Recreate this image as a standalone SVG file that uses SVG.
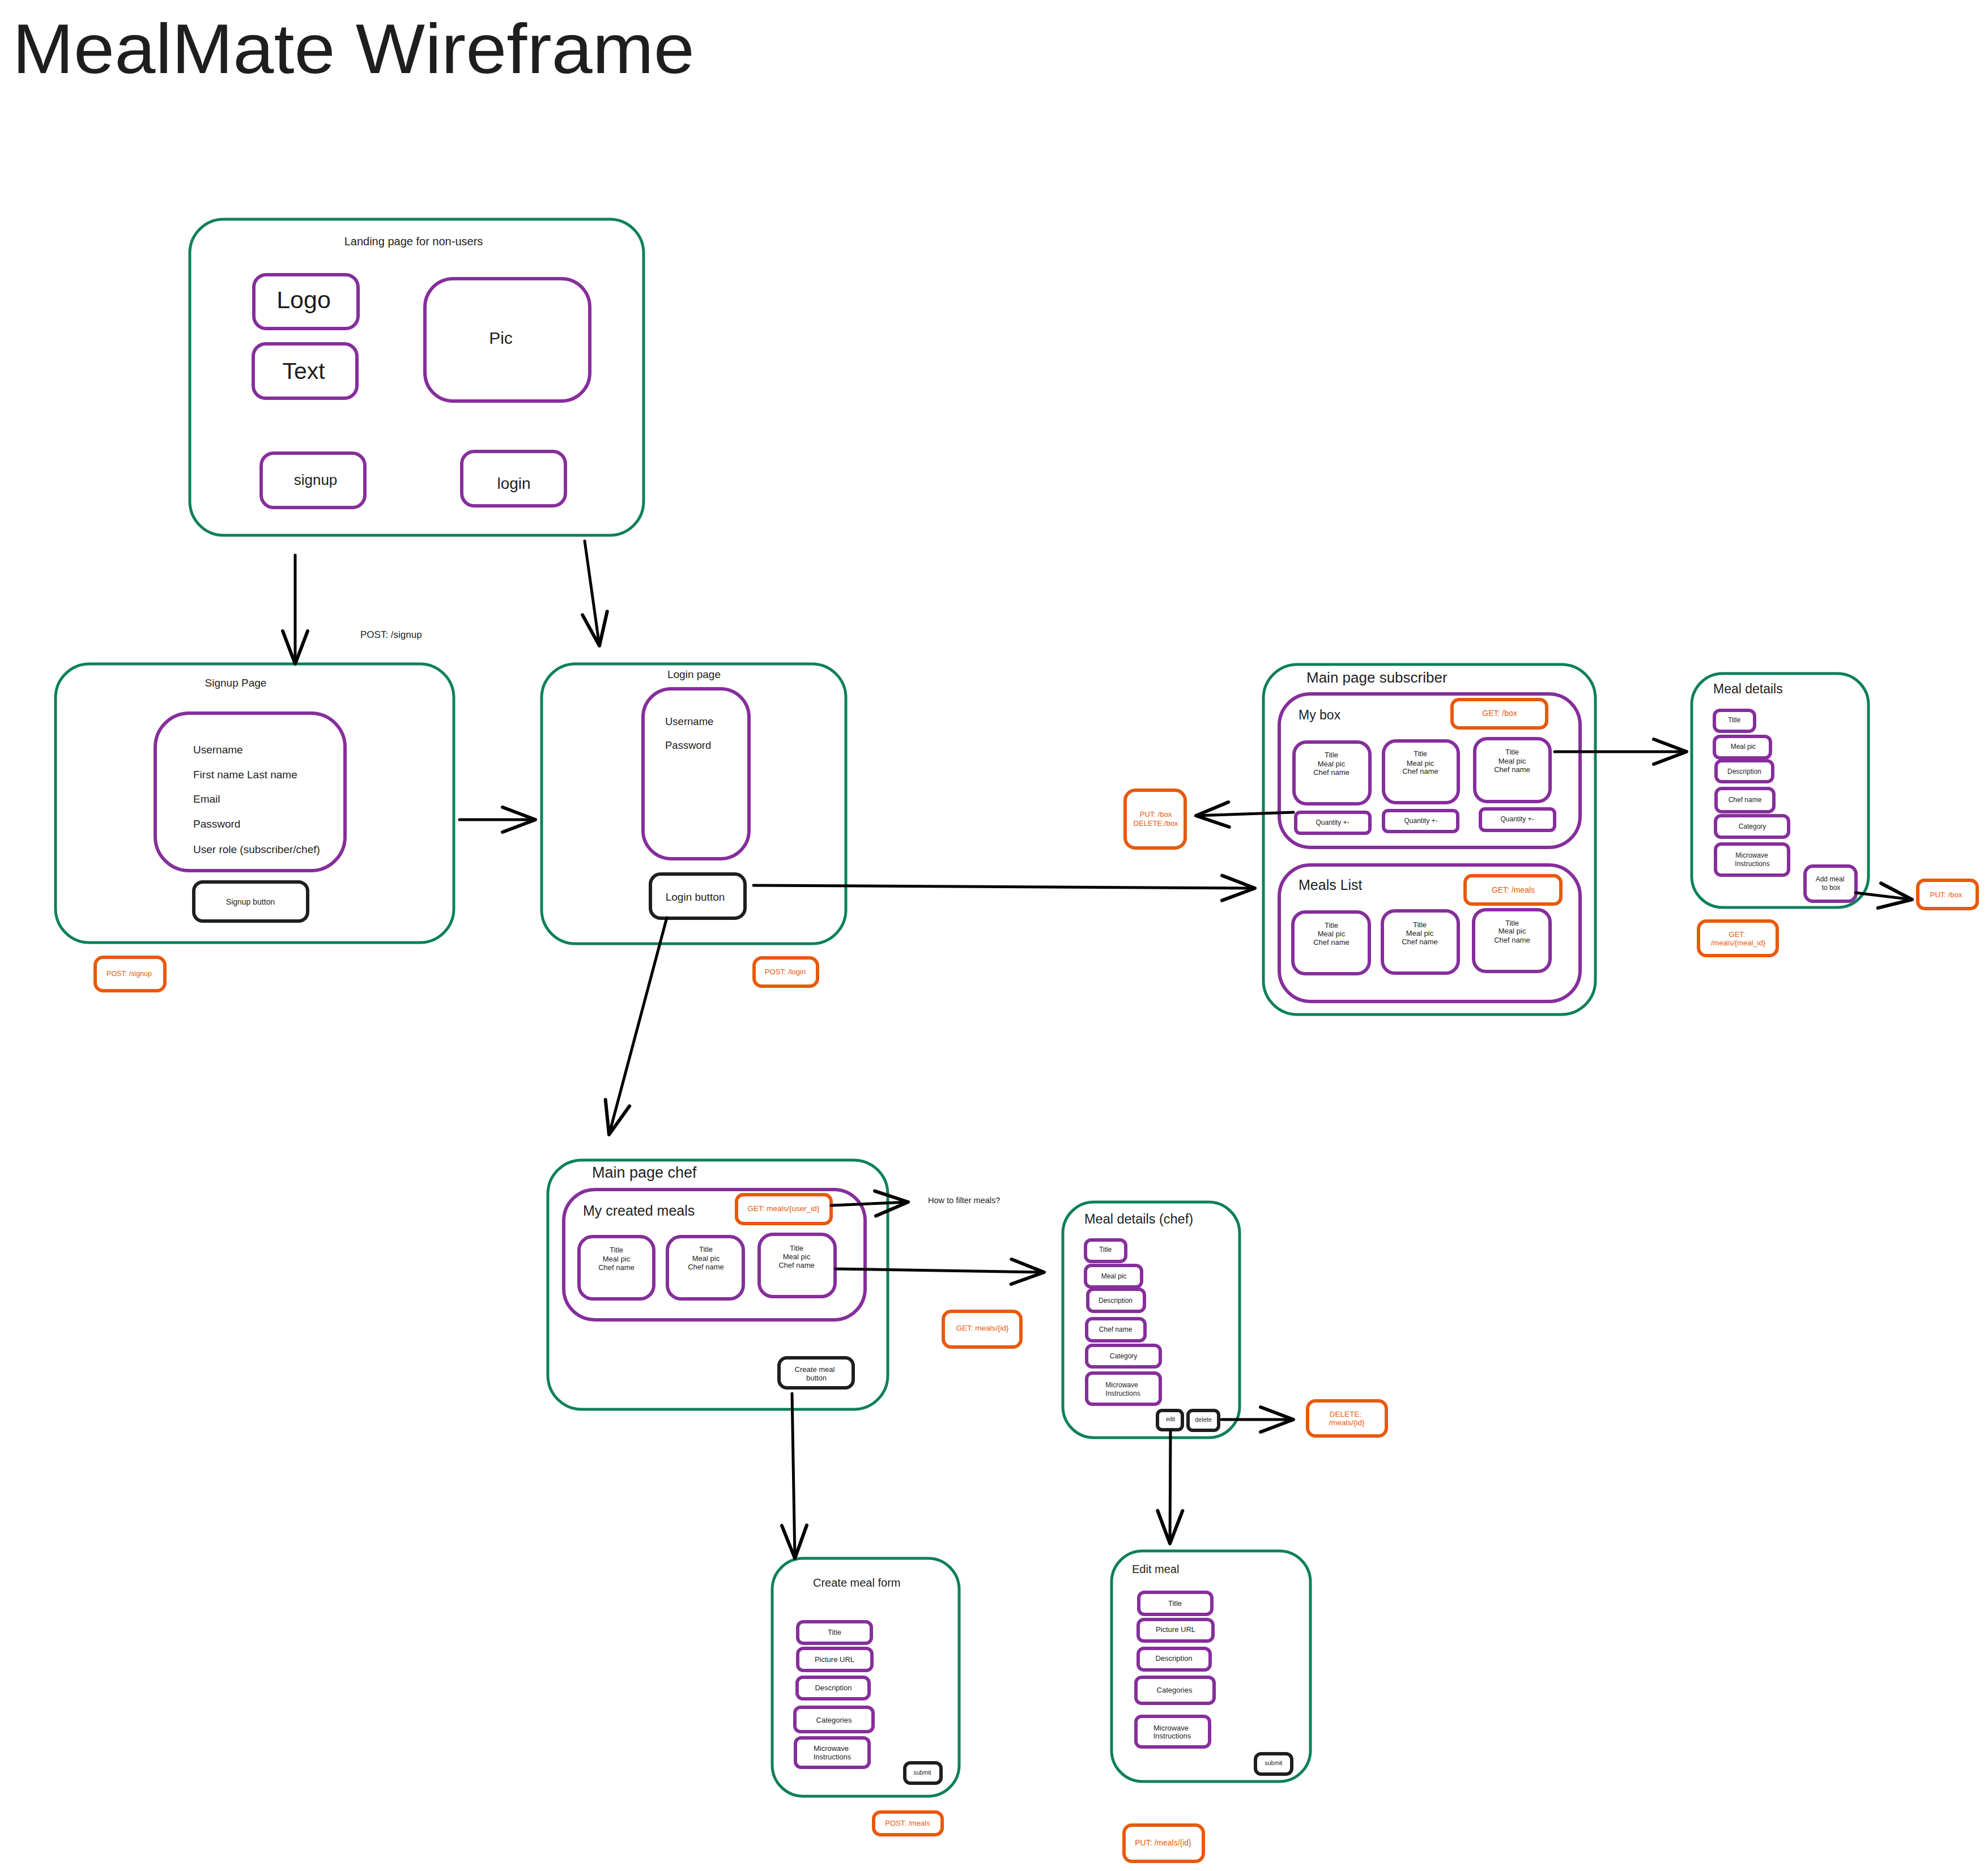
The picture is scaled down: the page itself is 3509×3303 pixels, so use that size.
<svg xmlns="http://www.w3.org/2000/svg" width="3509" height="3303" viewBox="0 0 3509 3303">
<style>
rect{fill:none}
.g{stroke:#0c8059;stroke-width:5}
.p{stroke:#862e9c;stroke-width:6}
.o{stroke:#e8590c;stroke-width:6}
.k{stroke:#1e1e1e;stroke-width:6}
.a{fill:none;stroke:#000;stroke-width:5;stroke-linecap:round}
text{font-family:"Liberation Sans",Arial,sans-serif;fill:#1e1e1e;dominant-baseline:central}
.c{text-anchor:middle}
.or{fill:#e8590c}
</style>
<defs>
<marker id="ah" markerUnits="userSpaceOnUse" markerWidth="70" markerHeight="52" viewBox="-62 -26 70 52" refX="0" refY="0" orient="auto">
<path d="M-58,-22 L0,0 L-58,22" fill="none" stroke="#000" stroke-width="6" stroke-linecap="round" stroke-linejoin="round"/>
</marker>
</defs>
<rect x="0" y="0" width="3509" height="3303" fill="#fff"/>
<text id="title" x="22" y="86" font-size="124" textLength="1204" lengthAdjust="spacingAndGlyphs">MealMate Wireframe</text>

<g id="landing">
<rect class="g" x="335" y="387" width="801" height="558" rx="60"/>
<text class="c" x="730" y="426" font-size="20">Landing page for non-users</text>
<rect class="p" x="448" y="485" width="184" height="95" rx="22"/>
<text class="c" x="536" y="529" font-size="43">Logo</text>
<rect class="p" x="447" y="607" width="183" height="96" rx="22"/>
<text class="c" x="536" y="655" font-size="41">Text</text>
<rect class="p" x="750" y="492" width="291" height="216" rx="50"/>
<text class="c" x="884" y="596" font-size="30">Pic</text>
<rect class="p" x="461" y="800" width="183" height="96" rx="22"/>
<text class="c" x="557" y="847" font-size="26">signup</text>
<rect class="p" x="815" y="797" width="183" height="96" rx="22"/>
<text class="c" x="907" y="853" font-size="28">login</text>
</g>

<text id="post-signup-label" x="636" y="1120" font-size="17">POST: /signup</text>

<g id="signup">
<rect class="g" x="98" y="1172" width="703" height="492" rx="60"/>
<text class="c" x="416" y="1205" font-size="19">Signup Page</text>
<rect class="p" x="274" y="1259" width="335" height="278" rx="60"/>
<text x="341" y="1323" font-size="19">Username</text>
<text x="341" y="1367" font-size="19">First name Last name</text>
<text x="341" y="1410" font-size="19">Email</text>
<text x="341" y="1454" font-size="19">Password</text>
<text x="341" y="1499" font-size="19">User role (subscriber/chef)</text>
<rect class="k" x="342" y="1557" width="201" height="69" rx="16"/>
<text class="c" x="442" y="1592" font-size="14">Signup button</text>
<rect class="o" x="168" y="1690" width="123" height="59" rx="14"/>
<text class="c or" x="228" y="1719" font-size="12.5">POST: /signup</text>
</g>

<g id="login">
<rect class="g" x="956" y="1172" width="537" height="494" rx="60"/>
<text class="c" x="1225" y="1190" font-size="19">Login page</text>
<rect class="p" x="1135" y="1216" width="187" height="300" rx="50"/>
<text x="1174" y="1273" font-size="18.5">Username</text>
<text x="1174" y="1315" font-size="18.5">Password</text>
<rect class="k" x="1148" y="1543" width="167" height="78" rx="18"/>
<text class="c" x="1227" y="1583" font-size="19">Login button</text>
<rect class="o" x="1331" y="1691" width="112" height="50" rx="14"/>
<text class="c or" x="1386" y="1715" font-size="13">POST: /login</text>
</g>

<g id="main-subscriber">
<rect class="g" x="2230" y="1173" width="586" height="618" rx="60"/>
<text x="2306" y="1196" font-size="26">Main page subscriber</text>
<rect class="p" x="2258" y="1225" width="531" height="271" rx="55"/>
<text x="2292" y="1262" font-size="23">My box</text>
<rect class="o" x="2563" y="1235" width="167" height="50" rx="12"/>
<text class="c or" x="2647" y="1259" font-size="14">GET: /box</text>
<rect class="p" x="2284" y="1310" width="134" height="109" rx="22"/>
<text class="c" x="2350" y="1332" font-size="13">Title</text>
<text class="c" x="2350" y="1348" font-size="13">Meal pic</text>
<text class="c" x="2350" y="1363" font-size="13">Chef name</text>
<rect class="p" x="2442" y="1308" width="132" height="109" rx="22"/>
<text class="c" x="2507" y="1330" font-size="13">Title</text>
<text class="c" x="2507" y="1347" font-size="13">Meal pic</text>
<text class="c" x="2507" y="1361" font-size="13">Chef name</text>
<rect class="p" x="2603" y="1304" width="133" height="111" rx="22"/>
<text class="c" x="2669" y="1327" font-size="13">Title</text>
<text class="c" x="2669" y="1343" font-size="13">Meal pic</text>
<text class="c" x="2669" y="1358" font-size="13">Chef name</text>
<rect class="p" x="2287" y="1434" width="131" height="37" rx="8"/>
<text class="c" x="2352" y="1452" font-size="12">Quantity +-</text>
<rect class="p" x="2442" y="1431" width="131" height="37" rx="8"/>
<text class="c" x="2508" y="1449" font-size="12">Quantity +-</text>
<rect class="p" x="2613" y="1428" width="131" height="38" rx="8"/>
<text class="c" x="2678" y="1446" font-size="12">Quantity +-</text>
<rect class="p" x="2258" y="1527" width="531" height="241" rx="55"/>
<text x="2292" y="1562" font-size="25">Meals List</text>
<rect class="o" x="2586" y="1546" width="169" height="50" rx="12"/>
<text class="c or" x="2671" y="1571" font-size="14">GET: /meals</text>
<rect class="p" x="2282" y="1610" width="135" height="109" rx="22"/>
<text class="c" x="2350" y="1633" font-size="13">Title</text>
<text class="c" x="2350" y="1648" font-size="13">Meal pic</text>
<text class="c" x="2350" y="1663" font-size="13">Chef name</text>
<rect class="p" x="2440" y="1608" width="134" height="110" rx="22"/>
<text class="c" x="2506" y="1632" font-size="13">Title</text>
<text class="c" x="2506" y="1647" font-size="13">Meal pic</text>
<text class="c" x="2506" y="1662" font-size="13">Chef name</text>
<rect class="p" x="2601" y="1606" width="135" height="109" rx="22"/>
<text class="c" x="2669" y="1629" font-size="13">Title</text>
<text class="c" x="2669" y="1643" font-size="13">Meal pic</text>
<text class="c" x="2669" y="1659" font-size="13">Chef name</text>
</g>

<g id="put-delete-box">
<rect class="o" x="1986" y="1395" width="106" height="102" rx="18"/>
<text class="c or" x="2040" y="1437" font-size="13">PUT: /box</text>
<text class="c or" x="2040" y="1453" font-size="13">DELETE:/box</text>
</g>

<g id="meal-details">
<rect class="g" x="2986" y="1189" width="312" height="413" rx="55"/>
<text x="3024" y="1216" font-size="23">Meal details</text>
<rect class="p" x="3026" y="1254" width="71" height="37" rx="10"/>
<text class="c" x="3061" y="1271" font-size="12">Title</text>
<rect class="p" x="3026" y="1300" width="99" height="38" rx="10"/>
<text class="c" x="3077" y="1318" font-size="12">Meal pic</text>
<rect class="p" x="3029" y="1343" width="100" height="37" rx="10"/>
<text class="c" x="3079" y="1362" font-size="12">Description</text>
<rect class="p" x="3029" y="1392" width="102" height="41" rx="10"/>
<text class="c" x="3080" y="1412" font-size="12">Chef name</text>
<rect class="p" x="3028" y="1440" width="129" height="38" rx="10"/>
<text class="c" x="3093" y="1459" font-size="12">Category</text>
<rect class="p" x="3028" y="1490" width="129" height="55" rx="10"/>
<text class="c" x="3092" y="1510" font-size="12">Microwave</text>
<text class="c" x="3093" y="1525" font-size="12">Instructions</text>
<rect class="p" x="3186" y="1529" width="90" height="62" rx="14"/>
<text class="c" x="3230" y="1552" font-size="12">Add meal</text>
<text class="c" x="3232" y="1567" font-size="12">to box</text>
<rect class="o" x="2998" y="1626" width="139" height="61" rx="14"/>
<text class="c or" x="3066" y="1649" font-size="13">GET:</text>
<text class="c or" x="3068" y="1664" font-size="13">/meals/{meal_id}</text>
</g>

<g id="put-box">
<rect class="o" x="3385" y="1554" width="105" height="50" rx="12"/>
<text class="c or" x="3435" y="1579" font-size="13">PUT: /box</text>
</g>

<g id="main-chef">
<rect class="g" x="967" y="2048" width="600" height="440" rx="60"/>
<text x="1045" y="2070" font-size="27">Main page chef</text>
<rect class="p" x="995" y="2100" width="532" height="230" rx="55"/>
<text x="1029" y="2137" font-size="25">My created meals</text>
<rect class="o" x="1300" y="2109" width="167" height="51" rx="12"/>
<text class="c or" x="1383" y="2133" font-size="13.5">GET: meals/{user_id}</text>
<rect class="p" x="1022" y="2183" width="132" height="110" rx="24"/>
<text class="c" x="1088" y="2206" font-size="13">Title</text>
<text class="c" x="1088" y="2222" font-size="13">Meal pic</text>
<text class="c" x="1088" y="2237" font-size="13">Chef name</text>
<rect class="p" x="1178" y="2183" width="134" height="110" rx="24"/>
<text class="c" x="1246" y="2205" font-size="13">Title</text>
<text class="c" x="1246" y="2221" font-size="13">Meal pic</text>
<text class="c" x="1246" y="2236" font-size="13">Chef name</text>
<rect class="p" x="1340" y="2179" width="134" height="110" rx="24"/>
<text class="c" x="1406" y="2203" font-size="13">Title</text>
<text class="c" x="1406" y="2218" font-size="13">Meal pic</text>
<text class="c" x="1406" y="2233" font-size="13">Chef name</text>
<rect class="k" x="1375" y="2397" width="131" height="53" rx="14"/>
<text class="c" x="1438" y="2417" font-size="13">Create meal</text>
<text class="c" x="1441" y="2432" font-size="13">button</text>
</g>

<text id="filter-note" x="1638" y="2119" font-size="14.5">How to filter meals?</text>

<g id="get-meal-id">
<rect class="o" x="1665" y="2315" width="137" height="63" rx="14"/>
<text class="c or" x="1734" y="2344" font-size="13.5">GET: meals/{id}</text>
</g>

<g id="meal-details-chef">
<rect class="g" x="1876" y="2122" width="312" height="416" rx="55"/>
<text x="1914" y="2152" font-size="23.5">Meal details (chef)</text>
<rect class="p" x="1916" y="2189" width="71" height="38" rx="10"/>
<text class="c" x="1951" y="2206" font-size="12">Title</text>
<rect class="p" x="1916" y="2234" width="99" height="38" rx="10"/>
<text class="c" x="1966" y="2253" font-size="12">Meal pic</text>
<rect class="p" x="1920" y="2276" width="100" height="39" rx="10"/>
<text class="c" x="1969" y="2296" font-size="12">Description</text>
<rect class="p" x="1918" y="2328" width="103" height="39" rx="10"/>
<text class="c" x="1969" y="2347" font-size="12">Chef name</text>
<rect class="p" x="1918" y="2375" width="130" height="38" rx="10"/>
<text class="c" x="1983" y="2394" font-size="12">Category</text>
<rect class="p" x="1918" y="2424" width="130" height="55" rx="10"/>
<text class="c" x="1980" y="2445" font-size="12">Microwave</text>
<text class="c" x="1982" y="2460" font-size="12">Instructions</text>
<rect class="k" x="2043" y="2490" width="44" height="34" rx="8"/>
<text class="c" x="2066" y="2505" font-size="10">edit</text>
<rect class="k" x="2097" y="2490" width="54" height="35" rx="8"/>
<text class="c" x="2124" y="2506" font-size="11">delete</text>
</g>

<g id="delete-box">
<rect class="o" x="2308" y="2473" width="139" height="62" rx="14"/>
<text class="c or" x="2375" y="2496" font-size="13.5">DELETE:</text>
<text class="c or" x="2377" y="2511" font-size="13.5">/meals/{id}</text>
</g>

<g id="create-meal-form">
<rect class="g" x="1363" y="2751" width="330" height="420" rx="55"/>
<text x="1435" y="2794" font-size="20">Create meal form</text>
<rect class="p" x="1408" y="2863" width="130" height="38" rx="10"/>
<text class="c" x="1473" y="2881" font-size="13">Title</text>
<rect class="p" x="1408" y="2910" width="131" height="39" rx="10"/>
<text class="c" x="1473" y="2929" font-size="13">Picture URL</text>
<rect class="p" x="1407" y="2961" width="127" height="38" rx="10"/>
<text class="c" x="1471" y="2979" font-size="13">Description</text>
<rect class="p" x="1403" y="3014" width="138" height="43" rx="10"/>
<text class="c" x="1472" y="3036" font-size="13">Categories</text>
<rect class="p" x="1404" y="3068" width="130" height="52" rx="10"/>
<text class="c" x="1467" y="3086" font-size="13">Microwave</text>
<text class="c" x="1469" y="3101" font-size="13">Instructions</text>
<rect class="k" x="1597" y="3112" width="64" height="36" rx="10"/>
<text class="c" x="1628" y="3129" font-size="10.5">submit</text>
</g>

<g id="post-meals">
<rect class="o" x="1542" y="3199" width="121" height="40" rx="12"/>
<text class="c or" x="1602" y="3218" font-size="13">POST: /meals</text>
</g>

<g id="edit-meal">
<rect class="g" x="1962" y="2738" width="351" height="407" rx="55"/>
<text x="1998" y="2770" font-size="20">Edit meal</text>
<rect class="p" x="2010" y="2811" width="129" height="39" rx="10"/>
<text class="c" x="2074" y="2830" font-size="13">Title</text>
<rect class="p" x="2009" y="2859" width="132" height="38" rx="10"/>
<text class="c" x="2075" y="2876" font-size="13">Picture URL</text>
<rect class="p" x="2009" y="2910" width="127" height="38" rx="10"/>
<text class="c" x="2072" y="2927" font-size="13">Description</text>
<rect class="p" x="2005" y="2961" width="138" height="46" rx="10"/>
<text class="c" x="2073" y="2983" font-size="13">Categories</text>
<rect class="p" x="2005" y="3030" width="130" height="54" rx="10"/>
<text class="c" x="2067" y="3050" font-size="13">Microwave</text>
<text class="c" x="2069" y="3064" font-size="13">Instructions</text>
<rect class="k" x="2216" y="3096" width="64" height="36" rx="10"/>
<text class="c" x="2248" y="3112" font-size="10.5">submit</text>
</g>

<g id="put-meal-id">
<rect class="o" x="1984" y="3222" width="140" height="64" rx="14"/>
<text class="c or" x="2053" y="3253" font-size="14">PUT: /meals/{id}</text>
</g>

<g id="connectors">
<path class="a" marker-end="url(#ah)" d="M521,980 L521,1172"/>
<path class="a" marker-end="url(#ah)" d="M1032,955 L1058,1140"/>
<path class="a" marker-end="url(#ah)" d="M811,1447 L945,1447"/>
<path class="a" marker-end="url(#ah)" d="M1330,1563 L2215,1568"/>
<path class="a" marker-end="url(#ah)" d="M1177,1620 L1075,2003"/>
<path class="a" marker-end="url(#ah)" d="M2283,1434 L2111,1440"/>
<path class="a" marker-end="url(#ah)" d="M2744,1327 L2977,1327"/>
<path class="a" marker-end="url(#ah)" d="M3275,1576 L3375,1588"/>
<path class="a" marker-end="url(#ah)" d="M1467,2128 L1603,2122"/>
<path class="a" marker-end="url(#ah)" d="M1475,2240 L1843,2246"/>
<path class="a" marker-end="url(#ah)" d="M1398,2460 L1403,2751"/>
<path class="a" marker-end="url(#ah)" d="M2066,2527 L2065,2725"/>
<path class="a" marker-end="url(#ah)" d="M2156,2506 L2283,2506"/>
</g>
</svg>
